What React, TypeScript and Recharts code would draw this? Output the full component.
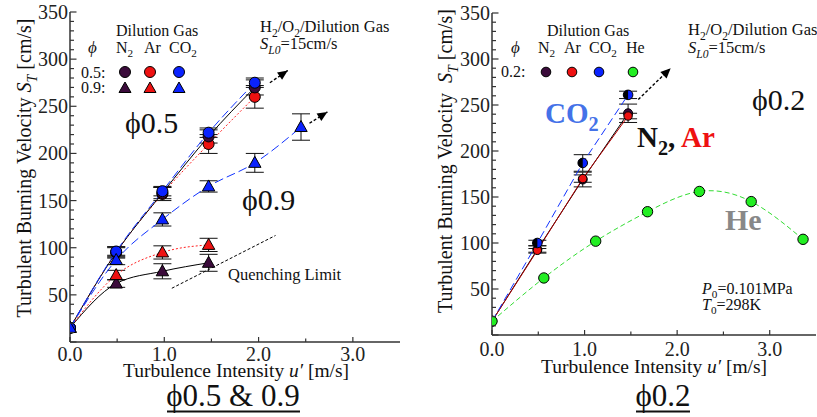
import React from "react";
import { ComposedChart, Line, XAxis, YAxis, ErrorBar } from "recharts";

// ---- axis ticks ----
const X_MAJOR = [0, 1, 2, 3];
const X_TICKS = [0, 0.5, 1, 1.5, 2, 2.5, 3];
const Y_MAJOR = [50, 100, 150, 200, 250, 300, 350];
const Y_TICKS = [
  0, 10, 20, 30, 40, 50, 60, 70, 80, 90, 100, 110, 120, 130, 140, 150, 160, 170,
  180, 190, 200, 210, 220, 230, 240, 250, 260, 270, 280, 290, 300, 310, 320, 330,
  340, 350
];

// ---- left panel: phi 0.5 ----
const U_PHI05 = [0, 0.49, 0.98, 1.47, 1.96];
const N2_PHI05 = [15, 95, 158, 218, 270];
const N2_PHI05_ERR = [0, 6, 6, 7, 8];
const AR_PHI05 = [15, 95, 157, 210, 260];
const AR_PHI05_ERR = [0, 5, 7, 10, 12];
const CO2_PHI05 = [15, 96, 160, 222, 275];
const CO2_PHI05_ERR = [0, 5, 5, 5, 5];

// ---- left panel: phi 0.9 ----
const U_PHI09 = [0, 0.49, 0.98, 1.47];
const N2_PHI09 = [15, 62, 75, 84];
const N2_PHI09_ERR = [0, 4, 8, 9];
const AR_PHI09 = [15, 71, 95, 103];
const AR_PHI09_ERR = [0, 5, 7, 7];
const U_PHI09_CO2 = [0, 0.49, 0.98, 1.47, 1.96, 2.45];
const CO2_PHI09 = [15, 87, 130, 165, 190, 228];
const CO2_PHI09_ERR = [0, 5, 7, 6, 10, 14];

const QUENCH_U = [1.08, 2.18];
const QUENCH_V = [57, 113];
const ARROW05_U = [2.12, 2.31];
const ARROW05_V = [275, 288];
const ARROW09_U = [2.54, 2.73];
const ARROW09_V = [232, 244];

// ---- right panel: phi 0.2 ----
const U_PHI02 = [0, 0.49, 0.98, 1.47];
const N2_PHI02 = [15, 93, 169, 241];
const N2_PHI02_ERR = [0, 4, 8, 10];
const AR_PHI02 = [15, 92, 170, 238];
const AR_PHI02_ERR = [0, 2, 4, 3];
const CO2_PHI02 = [15, 100, 187, 261];
const CO2_PHI02_ERR = [0, 3, 9, 4];
const U_HE = [0, 0.56, 1.12, 1.68, 2.24, 2.8, 3.36];
const HE_PHI02 = [15, 62, 102, 134, 156, 145, 104];
const ARROW02_U = [1.58, 1.93];
const ARROW02_V = [256, 290];

const FONT = '"Liberation Serif", "Times New Roman", serif';
const AXIS = "#333333";
const N2_FILL = "#3b0b3b";
const AR_FILL = "#ee1111";
const CO2_FILL = "#0a22ff";
const HE_FILL = "#22ee22";
const PHI = "\u03d5";

type Pt = { u: number; v: number; e: number };

function zip(us: number[], vs: number[], es?: number[]): Pt[] {
  return us.map((u, i) => ({ u, v: vs[i], e: es ? es[i] : 0 }));
}

function xTick(side: "bottom" | "top", labelDy: number) {
  return (p: any) => {
    const { x, y, payload } = p;
    const v = payload.value as number;
    const major = X_MAJOR.includes(v);
    const dir = side === "bottom" ? -1 : 1;
    return (
      <g key={`${side}-${v}`}>
        <line x1={x} x2={x} y1={y} y2={y + dir * (major ? 5 : 3.5)} stroke={AXIS} strokeWidth={1.2} />
        {side === "bottom" && major ? (
          <text x={x} y={y + labelDy} textAnchor="middle" fontFamily={FONT} fontSize={20} fill="#222">
            {v.toFixed(1)}
          </text>
        ) : null}
      </g>
    );
  };
}

function yTick(side: "left" | "right") {
  return (p: any) => {
    const { x, y, payload } = p;
    const v = payload.value as number;
    const major = Y_MAJOR.includes(v) || v === 0;
    const dir = side === "left" ? 1 : -1;
    return (
      <g key={`${side}-${v}`}>
        <line x1={x} x2={x + dir * (major ? 6.5 : 4)} y1={y} y2={y} stroke={AXIS} strokeWidth={1.2} />
        {side === "left" && Y_MAJOR.includes(v) ? (
          <text x={x - 2} y={y + 7} textAnchor="end" fontFamily={FONT} fontSize={20} fill="#222">
            {v}
          </text>
        ) : null}
      </g>
    );
  };
}

function circleDot(fill: string, r: number) {
  return (p: any) =>
    p.cx == null ? (
      <g key={p.index} />
    ) : (
      <circle key={p.index} cx={p.cx} cy={p.cy} r={r} fill={fill} stroke="#000" strokeWidth={1} />
    );
}

function halfDot(fill: string, r: number) {
  return (p: any) =>
    p.cx == null ? (
      <g key={p.index} />
    ) : (
      <g key={p.index}>
        <circle cx={p.cx} cy={p.cy} r={r} fill={fill} stroke="#000" strokeWidth={1} />
        <path d={`M${p.cx},${p.cy - r} A${r},${r} 0 0 0 ${p.cx},${p.cy + r} Z`} fill="#000" />
      </g>
    );
}

function triDot(fill: string) {
  return (p: any) =>
    p.cx == null ? (
      <g key={p.index} />
    ) : (
      <path
        key={p.index}
        d={`M${p.cx},${p.cy - 6.5} L${p.cx + 6.2},${p.cy + 4.5} L${p.cx - 6.2},${p.cy + 4.5} Z`}
        fill={fill}
        stroke="#000"
        strokeWidth={1}
      />
    );
}

function axes(yWidth: number, labelDy: number) {
  const line = { stroke: AXIS, strokeWidth: 1.5 };
  return [
    <XAxis
      key="xb"
      xAxisId="b"
      type="number"
      dataKey="u"
      domain={[0, 3.5]}
      allowDataOverflow
      ticks={X_TICKS}
      interval={0}
      tickSize={0}
      tickMargin={0}
      height={30}
      axisLine={line}
      tickLine={false}
      tick={xTick("bottom", labelDy)}
    />,
    <XAxis
      key="xt"
      xAxisId="t"
      orientation="top"
      type="number"
      dataKey="u"
      domain={[0, 3.5]}
      allowDataOverflow
      ticks={X_TICKS}
      interval={0}
      tickSize={0}
      tickMargin={0}
      height={0}
      axisLine={line}
      tickLine={false}
      tick={xTick("top", 0)}
    />,
    <YAxis
      key="yl"
      yAxisId="l"
      type="number"
      domain={[0, 350]}
      allowDataOverflow
      ticks={Y_TICKS}
      interval={0}
      tickSize={0}
      tickMargin={0}
      width={yWidth}
      axisLine={line}
      tickLine={false}
      tick={yTick("left")}
    />,
    <YAxis
      key="yr"
      yAxisId="r"
      orientation="right"
      type="number"
      domain={[0, 350]}
      allowDataOverflow
      ticks={Y_TICKS}
      interval={0}
      tickSize={0}
      tickMargin={0}
      width={0}
      axisLine={line}
      tickLine={false}
      tick={yTick("right")}
    />
  ];
}

const common = { xAxisId: "b", yAxisId: "l", dataKey: "v", isAnimationActive: false, strokeWidth: 1 };
const errProps = { dataKey: "e", width: 9, stroke: "#111", strokeWidth: 1, direction: "y" as const };

function LeftPanel() {
  return (
    <ComposedChart width={410} height={417} margin={{ top: 12, right: 10, bottom: 45, left: 0 }}>
      {axes(70, 19)}
      <Line {...common} data={zip(QUENCH_U, QUENCH_V)} stroke="#000" strokeDasharray="3 2" dot={false} />
      <Line {...common} data={zip(ARROW05_U, ARROW05_V)} stroke="#000" strokeWidth={1.4} strokeDasharray="3 2" dot={false} markerEnd="url(#arrowHead)" />
      <Line {...common} data={zip(ARROW09_U, ARROW09_V)} stroke="#000" strokeWidth={1.4} strokeDasharray="3 2" dot={false} markerEnd="url(#arrowHead)" />
      <Line {...common} type="monotone" data={zip(U_PHI09, N2_PHI09, N2_PHI09_ERR)} stroke="#000" dot={triDot(N2_FILL)}>
        <ErrorBar {...errProps} />
      </Line>
      <Line {...common} type="monotone" data={zip(U_PHI09, AR_PHI09, AR_PHI09_ERR)} stroke="#ff2222" strokeDasharray="2 2" dot={triDot(AR_FILL)}>
        <ErrorBar {...errProps} />
      </Line>
      <Line {...common} type="monotone" data={zip(U_PHI05, AR_PHI05, AR_PHI05_ERR)} stroke="#ff2222" strokeDasharray="2 2" dot={circleDot(AR_FILL, 5.5)}>
        <ErrorBar {...errProps} />
      </Line>
      <Line {...common} type="monotone" data={zip(U_PHI05, N2_PHI05, N2_PHI05_ERR)} stroke="#000" dot={circleDot(N2_FILL, 5.5)}>
        <ErrorBar {...errProps} />
      </Line>
      <Line {...common} type="monotone" data={zip(U_PHI05, CO2_PHI05, CO2_PHI05_ERR)} stroke="#1133ff" strokeDasharray="9 4" dot={circleDot(CO2_FILL, 5.5)}>
        <ErrorBar {...errProps} />
      </Line>
      <Line {...common} type="monotone" data={zip(U_PHI09_CO2, CO2_PHI09, CO2_PHI09_ERR)} stroke="#1133ff" strokeDasharray="9 4" dot={triDot(CO2_FILL)}>
        <ErrorBar {...errProps} />
      </Line>
    </ComposedChart>
  );
}

function RightPanel() {
  return (
    <ComposedChart width={407} height={417} margin={{ top: 13, right: 1, bottom: 52, left: 0 }}>
      {axes(82, 21)}
      <Line {...common} data={zip(ARROW02_U, ARROW02_V)} stroke="#000" strokeWidth={1.4} strokeDasharray="3 2" dot={false} markerEnd="url(#arrowHead)" />
      <Line {...common} data={zip(U_PHI02, N2_PHI02, N2_PHI02_ERR)} stroke="#000" dot={circleDot(N2_FILL, 4.5)}>
        <ErrorBar {...errProps} />
      </Line>
      <Line {...common} data={zip(U_PHI02, AR_PHI02, AR_PHI02_ERR)} stroke="#b00000" dot={circleDot(AR_FILL, 4.2)}>
        <ErrorBar {...errProps} />
      </Line>
      <Line {...common} data={zip(U_PHI02, CO2_PHI02, CO2_PHI02_ERR)} stroke="#1133ff" strokeDasharray="8 4" dot={halfDot(CO2_FILL, 4.8)}>
        <ErrorBar {...errProps} />
      </Line>
      <Line {...common} type="natural" data={zip(U_HE, HE_PHI02)} stroke="#33dd33" strokeDasharray="5 3" dot={circleDot(HE_FILL, 5.2)} />
    </ComposedChart>
  );
}

const txt = { fontFamily: FONT, fill: "#111" };

function Tri({ x, y, fill }: { x: number; y: number; fill: string }) {
  return <path d={`M${x},${y - 6} L${x + 6},${y + 4.5} L${x - 6},${y + 4.5} Z`} fill={fill} stroke="#000" strokeWidth={1} />;
}

// base text with a lowered subscript, then (optionally) the rest back on the baseline
function SubText({ base, sub, rest, size, italicBase, italicSub }: {
  base: string; sub: string; rest?: string; size: number; italicBase?: boolean; italicSub?: boolean;
}) {
  const d = size * 0.28;
  return (
    <>
      <tspan fontStyle={italicBase ? "italic" : undefined}>{base}</tspan>
      <tspan dy={d} fontSize={size * 0.7} fontStyle={italicSub ? "italic" : undefined}>{sub}</tspan>
      {rest ? <tspan dy={-d}>{rest}</tspan> : null}
    </>
  );
}

function Overlay() {
  return (
    <svg width={817} height={417} style={{ position: "absolute", left: 0, top: 0, pointerEvents: "none" }}>
      {/* ---------- left panel ---------- */}
      <text {...txt} fontSize={20} transform="translate(31,168) rotate(-90)" textAnchor="middle">
        <tspan>Turbulent Burning Velocity </tspan>
        <SubText base="S" sub="T" rest=" [cm/s]" size={20} italicBase italicSub />
      </text>
      <text {...txt} fontSize={19.5} x={236} y={377} textAnchor="middle">
        Turbulence Intensity <tspan fontStyle="italic">u′</tspan> [m/s]
      </text>
      <text {...txt} fontSize={31} x={233} y={406} textAnchor="middle">
        {PHI}0.5 &amp; 0.9
      </text>
      <line x1={167} x2={300} y1={411.5} y2={411.5} stroke="#111" strokeWidth={2} />

      <text {...txt} fontSize={16} x={116} y={36}>Dilution Gas</text>
      <text {...txt} fontSize={17} x={88} y={53} fontStyle="italic">{PHI}</text>
      <text {...txt} fontSize={16} x={116} y={53}><SubText base="N" sub="2" size={16} /></text>
      <text {...txt} fontSize={16} x={144} y={53}>Ar</text>
      <text {...txt} fontSize={16} x={169} y={53}><SubText base="CO" sub="2" size={16} /></text>
      <text {...txt} fontSize={16} x={81} y={78}>0.5:</text>
      <text {...txt} fontSize={16} x={81} y={93}>0.9:</text>
      <circle cx={125} cy={72} r={5.5} fill={N2_FILL} stroke="#000" />
      <circle cx={150} cy={72} r={5.5} fill={AR_FILL} stroke="#000" />
      <circle cx={179} cy={72} r={5.5} fill={CO2_FILL} stroke="#000" />
      <Tri x={125} y={88} fill={N2_FILL} />
      <Tri x={150} y={88} fill={AR_FILL} />
      <Tri x={179} y={88} fill={CO2_FILL} />

      <text {...txt} fontSize={16.5} x={260} y={32}>
        <SubText base="H" sub="2" rest="/" size={16.5} />
        <SubText base="O" sub="2" rest="/Dilution Gas" size={16.5} />
      </text>
      <text {...txt} fontSize={16.5} x={260} y={49}>
        <SubText base="S" sub="L0" rest="=15cm/s" size={16.5} italicBase italicSub />
      </text>
      <text {...txt} fontSize={30} x={125} y={133}>{PHI}0.5</text>
      <text {...txt} fontSize={30} x={242} y={210}>{PHI}0.9</text>
      <text {...txt} fontSize={16.5} x={228} y={280}>Quenching Limit</text>

      {/* ---------- right panel ---------- */}
      <text {...txt} fontSize={20} transform="translate(452,161) rotate(-90)" textAnchor="middle">
        <tspan>Turbulent Burning Velocity{"\u00a0\u00a0"}</tspan>
        <SubText base="S" sub="T" rest=" [cm/s]" size={20} italicBase italicSub />
      </text>
      <text {...txt} fontSize={19.5} x={654} y={373} textAnchor="middle">
        Turbulence Intensity <tspan fontStyle="italic">u′</tspan> [m/s]
      </text>
      <text {...txt} fontSize={31} x={663} y={406} textAnchor="middle">{PHI}0.2</text>
      <line x1={636} x2={690} y1={411.5} y2={411.5} stroke="#111" strokeWidth={2} />

      <text {...txt} fontSize={16} x={547} y={36}>Dilution Gas</text>
      <text {...txt} fontSize={17} x={511} y={53} fontStyle="italic">{PHI}</text>
      <text {...txt} fontSize={16} x={538} y={53}><SubText base="N" sub="2" size={16} /></text>
      <text {...txt} fontSize={16} x={564} y={53}>Ar</text>
      <text {...txt} fontSize={16} x={589} y={53}><SubText base="CO" sub="2" size={16} /></text>
      <text {...txt} fontSize={16} x={626} y={53}>He</text>
      <text {...txt} fontSize={16} x={501} y={77}>0.2:</text>
      <circle cx={546} cy={72} r={4.8} fill={N2_FILL} stroke="#000" />
      <circle cx={572} cy={72} r={4.8} fill={AR_FILL} stroke="#000" />
      <circle cx={599} cy={72} r={4.8} fill={CO2_FILL} stroke="#000" />
      <circle cx={633} cy={72} r={4.8} fill={HE_FILL} stroke="#000" />

      <text {...txt} fontSize={16.5} x={688} y={35}>
        <SubText base="H" sub="2" rest="/" size={16.5} />
        <SubText base="O" sub="2" rest="/Dilution Gas" size={16.5} />
      </text>
      <text {...txt} fontSize={16.5} x={688} y={53}>
        <SubText base="S" sub="L0" rest="=15cm/s" size={16.5} italicBase italicSub />
      </text>
      <text fontFamily={FONT} fontWeight="bold" fontSize={29} x={545} y={123} fill="#4472e8">
        <SubText base="CO" sub="2" size={29} />
      </text>
      <text fontFamily={FONT} fontWeight="bold" fontSize={29} x={637} y={147} fill="#111">
        <SubText base="N" sub="2" rest=", " size={29} />
        <tspan fill="#ee1111">Ar</tspan>
      </text>
      <text {...txt} fontSize={30} x={752} y={110}>{PHI}0.2</text>
      <text fontFamily={FONT} fontWeight="bold" fontSize={30} x={725} y={230} fill="#888888">He</text>
      <text {...txt} fontSize={16} x={702} y={294}>
        <SubText base="P" sub="0" rest="=0.101MPa" size={16} italicBase />
      </text>
      <text {...txt} fontSize={16} x={702} y={310}>
        <SubText base="T" sub="0" rest="=298K" size={16} italicBase />
      </text>
    </svg>
  );
}

export default function App() {
  return (
    <div style={{ position: "absolute", left: 0, top: 0, width: 817, height: 417, background: "#fff", overflow: "hidden" }}>
      <svg width={0} height={0} style={{ position: "absolute" }}>
        <defs>
          <marker id="arrowHead" viewBox="0 0 10 10" refX={10} refY={5} markerWidth={11} markerHeight={10} markerUnits="userSpaceOnUse" orient="auto">
            <path d="M0,0.5 L10,5 L0,9.5 Z" fill="#000" />
          </marker>
        </defs>
      </svg>
      <div style={{ position: "absolute", left: 0, top: 0 }}>
        <LeftPanel />
      </div>
      <div style={{ position: "absolute", left: 410, top: 0 }}>
        <RightPanel />
      </div>
      <Overlay />
    </div>
  );
}
